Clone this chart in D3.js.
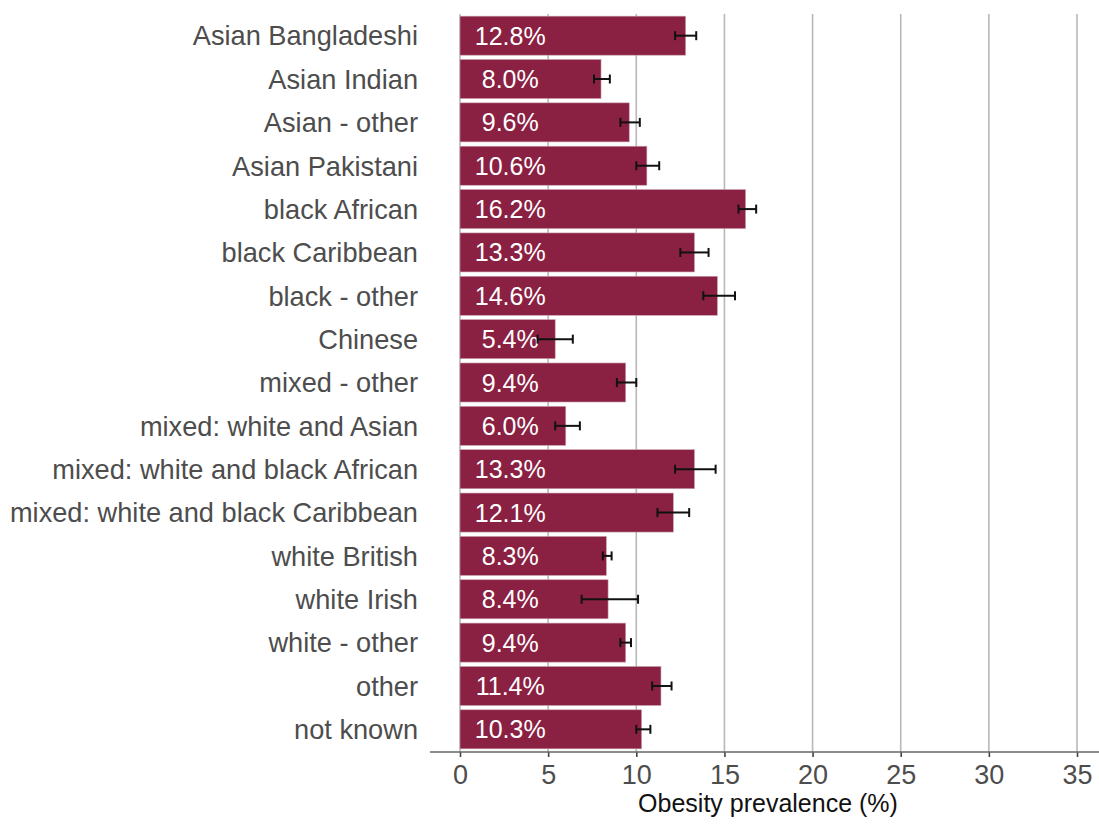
<!DOCTYPE html>
<html><head><meta charset="utf-8">
<script src="https://cdn.jsdelivr.net/npm/d3@7"></script>
<style>body{margin:0;background:#fff;} text{font-family:"Liberation Sans",Arial,sans-serif;}</style>
</head><body>
<svg id="chart" width="1099" height="824"></svg>
<script>
const categories = ["Asian Bangladeshi","Asian Indian","Asian - other","Asian Pakistani","black African","black Caribbean","black - other","Chinese","mixed - other","mixed: white and Asian","mixed: white and black African","mixed: white and black Caribbean","white British","white Irish","white - other","other","not known"];
const values = [12.8,8.0,9.6,10.6,16.2,13.3,14.6,5.4,9.4,6.0,13.3,12.1,8.3,8.4,9.4,11.4,10.3];
const lower = [12.2,7.6,9.1,10.0,15.8,12.5,13.8,4.4,8.9,5.4,12.2,11.2,8.1,6.9,9.1,10.9,10.0];
const upper = [13.4,8.5,10.2,11.3,16.8,14.1,15.6,6.4,10.0,6.8,14.5,13.0,8.6,10.1,9.7,12.0,10.8];
const xTicks = [0,5,10,15,20,25,30,35];
const xTitle = "Obesity prevalence (%)";

const svg = d3.select("#chart");
const x = d3.scaleLinear().domain([0,35]).range([460,1077]);
const y = d3.scaleBand().domain(categories).range([14,751]).paddingInner(0.1).paddingOuter(0.05);
const data = categories.map((c,i)=>({c,v:values[i],lo:lower[i],hi:upper[i]}));

// gridlines
svg.append("g").selectAll("line").data(xTicks).join("line")
  .attr("x1",d=>x(d)).attr("x2",d=>x(d)).attr("y1",14).attr("y2",752)
  .attr("stroke","#b8b8b8").attr("stroke-width",1.6);

// bars
svg.append("g").selectAll("rect").data(data).join("rect")
  .attr("x",x(0)).attr("y",d=>y(d.c)).attr("width",d=>x(d.v)-x(0)).attr("height",y.bandwidth())
  .attr("fill","#8a2042").attr("stroke","#c9a0ad").attr("stroke-width",0.6);

// labels inside bars
svg.append("g").selectAll("text").data(data).join("text")
  .attr("x",x(2.85)).attr("y",d=>y(d.c)+y.bandwidth()/2).attr("dy","0.36em")
  .attr("text-anchor","middle").attr("fill","#fff").attr("font-size",25)
  .text(d=>d.v.toFixed(1)+"%");

// error bars
const eb = svg.append("g").attr("stroke","#111").attr("stroke-width",2);
data.forEach(d=>{
  const cy = y(d.c)+y.bandwidth()/2;
  eb.append("line").attr("x1",x(d.lo)).attr("x2",x(d.hi)).attr("y1",cy).attr("y2",cy);
  eb.append("line").attr("x1",x(d.lo)).attr("x2",x(d.lo)).attr("y1",cy-4.5).attr("y2",cy+4.5);
  eb.append("line").attr("x1",x(d.hi)).attr("x2",x(d.hi)).attr("y1",cy-4.5).attr("y2",cy+4.5);
});

// category labels
svg.append("g").selectAll("text").data(data).join("text")
  .attr("x",418).attr("y",d=>y(d.c)+y.bandwidth()/2).attr("dy","0.36em")
  .attr("text-anchor","end").attr("fill","#4d4d4d").attr("font-size",27.2)
  .text(d=>d.c);

// x axis
const axisG = svg.append("g").attr("transform","translate(0,752)")
  .call(d3.axisBottom(x).tickValues(xTicks).tickSize(5).tickPadding(8).tickFormat(d3.format("d")));
axisG.select(".domain").remove();
axisG.append("line").attr("x1",430).attr("x2",1099).attr("y1",0).attr("y2",0).attr("stroke","#666").attr("stroke-width",1.6);
axisG.selectAll(".tick line").attr("stroke","#444").attr("stroke-width",1.6);
axisG.selectAll(".tick text").attr("fill","#4d4d4d").attr("font-size",27)
  .attr("font-family","'Liberation Sans',Arial,sans-serif");

svg.append("text").attr("x",768).attr("y",812).attr("text-anchor","middle")
  .attr("fill","#111").attr("font-size",25).text(xTitle);
</script>
</body></html>
